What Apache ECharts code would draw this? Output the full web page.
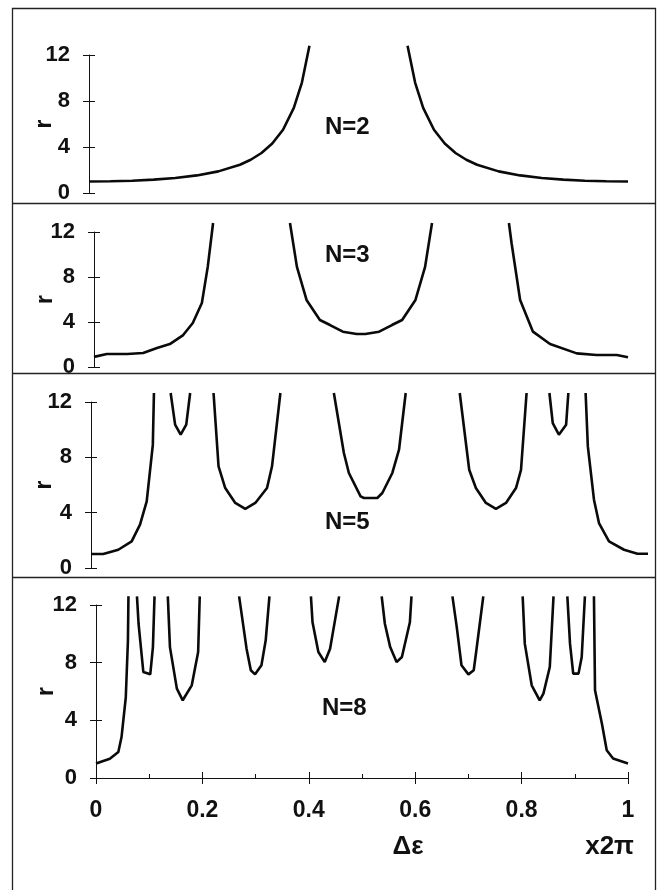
<!DOCTYPE html>
<html><head><meta charset="utf-8">
<script src="https://cdn.jsdelivr.net/npm/echarts@6/dist/echarts.min.js"></script>
<style>html,body{margin:0;padding:0;background:#fff}#c{width:660px;height:890px}</style>
</head><body><div id="c"></div>
<script>
// ---- data (null marks a break between branches) ----
const n2X = [0,0.04,0.08,0.12,0.16,0.2,0.24,0.28,0.3,0.32,0.34,0.36,0.38,0.395,0.409,null,0.591,0.605,0.62,0.64,0.66,0.68,0.7,0.72,0.76,0.8,0.84,0.88,0.92,0.96,1];
const n2R = [1,1.02,1.07,1.16,1.3,1.53,1.88,2.46,2.89,3.48,4.3,5.5,7.4,9.6,12.8,null,12.8,9.6,7.4,5.5,4.3,3.48,2.89,2.46,1.88,1.53,1.3,1.16,1.07,1.02,1];

const n3X = [0,0.024,0.062,0.092,0.118,0.142,0.167,0.185,0.202,0.213,0.223,null,0.367,0.38,0.398,0.423,0.442,0.466,0.492,0.508,0.534,0.558,0.577,0.602,0.62,0.633,null,0.777,0.782,0.798,0.822,0.854,0.904,0.941,0.979,1];
const n3R = [0.9,1.16,1.16,1.24,1.69,2.04,2.84,3.91,5.69,8.9,12.8,null,12.8,8.9,5.96,4.18,3.73,3.14,2.93,2.93,3.14,3.73,4.18,5.96,8.9,12.8,null,12.8,11,5.96,3.14,2.04,1.21,1.07,1.07,0.86];

const n5X = [0,0.022,0.049,0.073,0.088,0.1,0.111,0.113,null,0.143,0.151,0.161,0.171,0.178,null,0.22,0.229,0.241,0.259,0.277,0.295,0.316,0.325,0.34,null,0.436,0.454,0.463,0.484,0.49,0.514,0.523,0.541,0.553,0.565,null,0.662,0.679,0.691,0.709,0.727,0.745,0.763,0.772,0.782,null,0.823,0.829,0.84,0.853,0.857,null,0.888,0.892,0.903,0.912,0.93,0.957,0.981,1];
const n5R = [1.01,1.01,1.32,1.92,3.13,4.82,8.9,12.65,null,12.65,10.36,9.64,10.36,12.65,null,12.65,7.35,5.78,4.7,4.27,4.7,5.78,7.35,12.65,null,12.65,8.31,6.87,5.18,5.06,5.06,5.42,6.87,8.55,12.65,null,12.65,7.1,5.78,4.7,4.27,4.7,5.78,7.1,12.65,null,12.65,10.48,9.64,10.36,12.65,null,12.65,8.79,4.94,3.25,1.92,1.32,1.03,1.03];

const n8X = [0,0.026,0.042,0.048,0.056,0.06,0.061,null,0.077,0.08,0.089,0.102,0.107,0.11,null,0.135,0.139,0.152,0.163,0.18,0.192,0.195,null,0.269,0.283,0.291,0.299,0.311,0.319,0.326,null,0.404,0.407,0.418,0.43,0.44,0.457,null,0.537,0.543,0.553,0.565,0.575,0.59,0.593,null,0.67,0.678,0.687,0.7,0.71,0.715,0.728,null,0.802,0.806,0.819,0.834,0.841,0.853,0.86,null,0.886,0.891,0.897,0.907,0.913,0.919,null,0.936,0.938,0.951,0.96,0.972,1];
const n8R = [1,1.34,1.8,2.84,5.6,9.5,12.6,null,12.6,10.7,7.35,7.19,9.08,12.6,null,12.6,9.08,6.2,5.39,6.43,8.74,12.6,null,12.6,8.97,7.47,7.19,7.82,9.55,12.6,null,12.6,10.8,8.74,8.04,8.97,12.6,null,12.6,10.7,9.08,8.04,8.39,10.8,12.6,null,12.6,10.5,7.82,7.19,7.47,8.86,12.6,null,12.6,9.32,6.43,5.39,5.85,7.7,12.6,null,12.6,9.32,7.24,7.24,8.39,12.6,null,12.6,6.08,3.77,1.92,1.35,1];

const yTicks = [0,4,8,12];
const xTicks = [0,0.2,0.4,0.6,0.8,1];
const panelLabels = ['N=2','N=3','N=5','N=8'];
const yTitle = 'r';
const xTitle = 'Δε';
const xUnit = 'x2π';

// ---- layout ----
const panels = [
  {xs:n2X, rs:n2R, grid:{left:89,right:32,top:55,bottom:697}, label:[325,127], nameGap:33},
  {xs:n3X, rs:n3R, grid:{left:94,right:32,top:232,bottom:523}, label:[325,255], nameGap:37},
  {xs:n5X, rs:n5R, grid:{left:91,right:12,top:402,bottom:322}, label:[325,522], nameGap:35},
  {xs:n8X, rs:n8R, grid:{left:96,right:32,top:605,bottom:112}, label:[322,708], nameGap:38}
];
const FONT = '"Liberation Sans", Arial, sans-serif';
const yStep = yTicks[1]-yTicks[0];
const xStep = xTicks[1]-xTicks[0];

const grid=[], xAxis=[], yAxis=[], series=[];
panels.forEach((p,i)=>{
  grid.push(p.grid);
  const last = i===panels.length-1;
  xAxis.push({type:'value', gridIndex:i, min:xTicks[0], max:xTicks[xTicks.length-1], interval:xStep,
    position:'bottom', show:last,
    axisLine:{show:last, onZero:false, lineStyle:{color:'#111',width:1}},
    axisTick:{show:last, inside:false, length:6, lineStyle:{color:'#111',width:1}},
    axisLabel:{show:last, margin:21, color:'#111', fontSize:23, fontWeight:'bold', fontFamily:FONT},
    splitLine:{show:false}});
  xAxis.push({type:'value', gridIndex:i, min:xTicks[0], max:xTicks[xTicks.length-1], interval:xStep,
    position:'bottom', show:last,
    axisLine:{show:false, onZero:false},
    axisTick:{show:last, inside:true, length:6, lineStyle:{color:'#111',width:1}},
    minorTick:{show:last, splitNumber:2, length:4, lineStyle:{color:'#111',width:1}},
    axisLabel:{show:false}, splitLine:{show:false}, minorSplitLine:{show:false}});
  yAxis.push({type:'value', gridIndex:i, min:yTicks[0], max:yTicks[yTicks.length-1], interval:yStep,
    position:'left',
    name:yTitle, nameLocation:'middle', nameGap:p.nameGap, nameRotate:90, nameMoveOverlap:false,
    nameTextStyle:{fontSize:23, fontWeight:'bold', color:'#111', fontFamily:FONT},
    axisLine:{show:true, onZero:false, lineStyle:{color:'#111',width:1}},
    axisTick:{show:true, inside:false, length:6, lineStyle:{color:'#111',width:1}},
    axisLabel:{margin:19, color:'#111', fontSize:22, fontWeight:'bold', fontFamily:FONT},
    splitLine:{show:false}});
  yAxis.push({type:'value', gridIndex:i, min:yTicks[0], max:yTicks[yTicks.length-1], interval:yStep,
    position:'left',
    axisLine:{show:false, onZero:false},
    axisTick:{show:true, inside:true, length:6, lineStyle:{color:'#111',width:1}},
    axisLabel:{show:false}, splitLine:{show:false}});
  const data = p.xs.map((x,k)=> x===null ? ['-','-'] : [x, p.rs[k]]);
  series.push({type:'line', xAxisIndex:2*i, yAxisIndex:2*i, data:data, showSymbol:false, symbol:'none',
    connectNulls:false, clip:false, smooth:false,
    lineStyle:{color:'#0a0a0a', width:2.6}});
});

const graphic = [
  {type:'rect', shape:{x:12.5,y:8.5,width:643,height:900}, style:{fill:null, stroke:'#222', lineWidth:1.3}},
  {type:'line', shape:{x1:12,y1:203.5,x2:656,y2:203.5}, style:{stroke:'#222', lineWidth:1.3}},
  {type:'line', shape:{x1:12,y1:373.5,x2:656,y2:373.5}, style:{stroke:'#222', lineWidth:1.3}},
  {type:'line', shape:{x1:12,y1:577.5,x2:656,y2:577.5}, style:{stroke:'#222', lineWidth:1.3}}
];
panels.forEach((p,i)=>{
  graphic.push({type:'text', x:p.label[0], y:p.label[1], style:{text:panelLabels[i], fill:'#111',
    font:'bold 24px '+FONT, align:'left', verticalAlign:'middle', textAlign:'left', textVerticalAlign:'middle'}});
});
graphic.push({type:'text', x:408, y:847, style:{text:xTitle, fill:'#111', font:'bold 26px '+FONT,
  align:'center', verticalAlign:'middle', textAlign:'center', textVerticalAlign:'middle'}});
graphic.push({type:'text', x:634, y:847, style:{text:xUnit, fill:'#111', font:'bold 26px '+FONT,
  align:'right', verticalAlign:'middle', textAlign:'right', textVerticalAlign:'middle'}});

const chart = echarts.init(document.getElementById('c'), null, {renderer:'canvas'});
chart.setOption({animation:false, backgroundColor:'#fff', grid, xAxis, yAxis, series, graphic});
</script></body></html>
